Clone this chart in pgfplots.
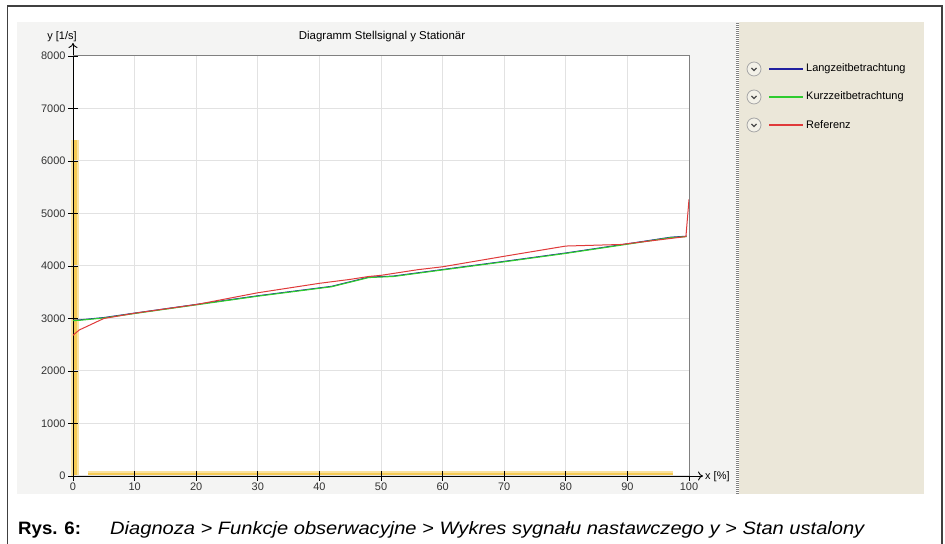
\documentclass[border=0pt]{standalone}
\usepackage{fontspec}
\setmainfont{Liberation Sans}
\usepackage{pgfplots}
\pgfplotsset{compat=1.18}
\usetikzlibrary{arrows.meta}

\definecolor{panelgray}{HTML}{F4F4F3}
\definecolor{beige}{HTML}{EBE7D9}
\definecolor{framegray}{HTML}{404040}
\definecolor{gridgray}{HTML}{E2E2E2}
\definecolor{bordergray}{HTML}{808080}
\definecolor{langblue}{HTML}{2020A0}
\definecolor{kurzgreen}{HTML}{2ECC2E}
\definecolor{refred}{HTML}{E03A3A}
\definecolor{hlyellow}{HTML}{FBE3A0}
\definecolor{hlcore}{HTML}{F6CB55}

\pgfplotstableread{
x y
0 2960
1 2965
5 3010
10 3095
20 3260
30 3425
42 3605
48 3780
52 3800
60 3925
70 4080
80 4240
90 4415
97 4540
99.6 4560
}\kurztab

\pgfplotstableread{
x y
0 2968
1 2973
5 3018
10 3103
20 3268
30 3433
42 3613
48 3788
52 3808
60 3933
70 4088
80 4248
90 4423
97 4548
99.6 4568
}\langtab

\pgfplotstableread{
x y
0 2680
1 2780
5 3000
10 3100
20 3265
30 3490
40 3670
45 3745
48 3800
50 3822
56 3930
60 3985
70 4185
80 4380
89 4410
99.5 4560
100 5270
}\reftab

\begin{document}
\begin{tikzpicture}[x=1bp,y=1bp]
\useasboundingbox (0,0) rectangle (945,544);
% frame and panels
\draw[framegray, line width=1.3bp] (7.5,-5) -- (7.5,538) -- (942,538) -- (942,-5);
\fill[panelgray] (17,50) rectangle (736,522);
\fill[beige] (739,50) rectangle (924,522);
\draw[bordergray, line width=2.5bp, dash pattern=on 1bp off 1bp] (737.5,50) -- (737.5,522);
\fill[white] (73,68) rectangle (689,488);
% yellow highlight bars along the axes
\draw[hlyellow, line width=8bp] (75,68) -- (75,404);
\draw[hlyellow, line width=6bp] (88,70) -- (673,70);
\draw[hlcore, line width=3bp] (75,68) -- (75,404);
\draw[hlcore, line width=2.5bp] (88,70) -- (673,70);

\begin{axis}[
    at={(73bp,68bp)}, anchor=south west,
    width=616bp, height=420bp, scale only axis,
    xmin=0, xmax=100, ymin=0, ymax=8000,
    xtick={0,10,...,100},
    ytick={0,1000,...,8000},
    axis lines=left,
    x axis line style={-{To[length=5bp,width=9bp]}, shorten >=-14bp, line width=0.9bp},
    y axis line style={-{To[length=5bp,width=9bp]}, shorten >=-13bp, line width=0.9bp},
    tick align=center,
    major tick length=10bp,
    tick style={black, line width=0.9bp},
    grid=major,
    major grid style={gridgray, line width=1bp},
    /pgf/number format/1000 sep={},
    /pgf/number format/assume math mode=true,
    ticklabel style={font=\fontsize{11}{13}\selectfont, text=black!80},
    xticklabel style={yshift=2bp},
    yticklabel style={xshift=1bp},
    clip=false,
]
\addplot[langblue, line width=1bp] table {\langtab};
\addplot[kurzgreen, line width=1.1bp] table {\kurztab};
\addplot[refred, line width=1bp] table {\reftab};
\end{axis}

% plot border top/right
\draw[bordergray, line width=1bp] (73,488) -- (689,488) -- (689,68);

% titles
\node[font=\fontsize{11.5}{13}\selectfont] at (382,507) {Diagramm Stellsignal y Stationär};
\node[font=\fontsize{11}{13}\selectfont] at (62,507) {y [1/s]};
\node[font=\fontsize{11}{13}\selectfont, anchor=west, inner sep=0pt] at (705,67) {x [\%]};

% legend
\foreach \yy/\col/\txt in {475/langblue/Langzeitbetrachtung, 447/kurzgreen/Kurzzeitbetrachtung, 419/refred/Referenz}{
  \draw[gray!70, line width=0.8bp, fill=beige!60!white] (754,\yy) circle (7bp);
  \draw[black!70, line width=1.1bp] (751.5,\yy+1) -- (754,\yy-1.5) -- (756.5,\yy+1);
  \draw[\col, line width=1.6bp] (769,\yy) -- (803,\yy);
  \node[font=\fontsize{11}{13}\selectfont, anchor=west, inner sep=0pt] at (806,\yy) {\txt};
}

% caption
\node[anchor=base west, inner sep=0pt, font=\fontsize{18}{22}\selectfont\bfseries, xscale=1.04] at (18,9) {Rys. 6:};
\node[anchor=base west, inner sep=0pt, font=\fontsize{18}{22}\selectfont\itshape, xscale=1.12] at (110,9) {Diagnoza > Funkcje obserwacyjne > Wykres sygnału nastawczego y > Stan ustalony};
\end{tikzpicture}
\end{document}
